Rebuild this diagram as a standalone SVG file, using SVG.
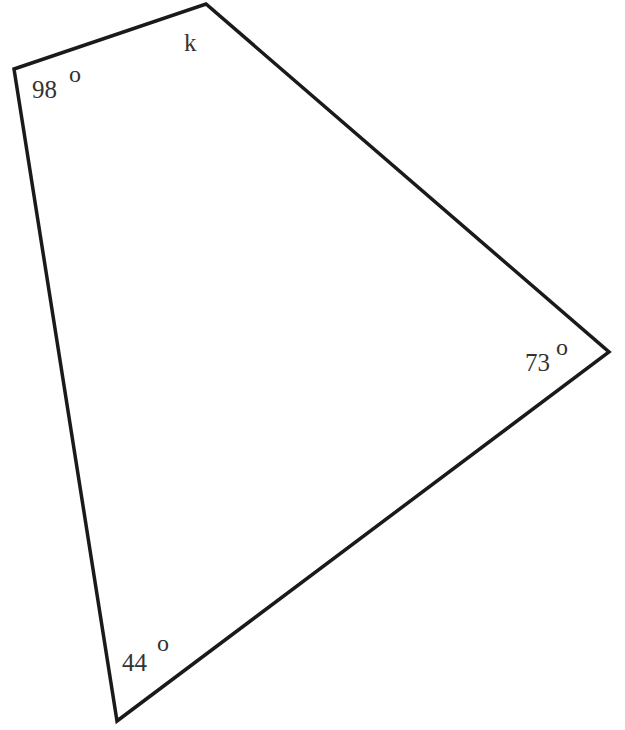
<svg xmlns="http://www.w3.org/2000/svg" width="625" height="730" viewBox="0 0 625 730">
<style>
.edge{fill:none;stroke:#1a1a1a;stroke-width:3.5;stroke-linejoin:miter}
.lbl{font-family:"Liberation Serif","DejaVu Serif",serif;font-size:25px;fill:#333}
.deg{font-family:"Liberation Serif","DejaVu Serif",serif;font-size:24px;fill:#333}
</style>
<rect width="625" height="730" fill="#fff"/>
<g id="connectors">
<polygon class="edge" points="14,69 206,4 609,352 117,721"/>
</g>
<g id="angle-98"><text class="lbl" x="32" y="98">98</text><text class="deg" x="69" y="82">o</text></g>
<g id="label-k"><text class="lbl" x="184" y="51">k</text></g>
<g id="angle-73"><text class="lbl" x="525" y="371">73</text><text class="deg" x="556" y="355">o</text></g>
<g id="angle-44"><text class="lbl" x="122" y="671">44</text><text class="deg" x="157" y="651">o</text></g>
</svg>
